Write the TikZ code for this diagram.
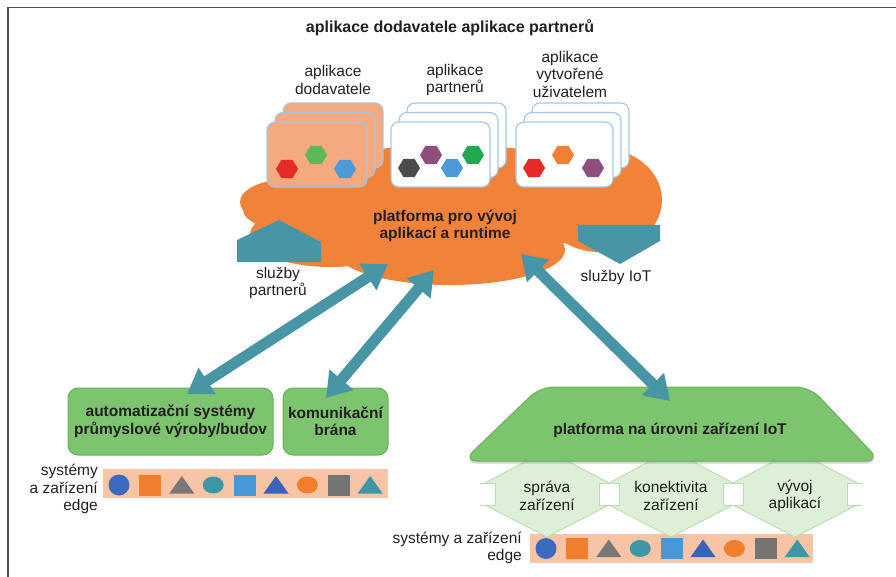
\documentclass[tikz,border=0pt]{standalone}
\usepackage{fontspec}
\setmainfont{Liberation Sans}
\usetikzlibrary{arrows.meta,shadows}

\definecolor{ink}{HTML}{231F20}
\definecolor{framec}{HTML}{505050}
\definecolor{cloudc}{HTML}{F0823A}
\definecolor{cardedge}{HTML}{A3C6E6}
\definecolor{cardsup}{HTML}{F4AA80}
\definecolor{tealc}{HTML}{4895A6}
\definecolor{greenc}{HTML}{7CC46D}
\definecolor{greenedge}{HTML}{68B35A}
\definecolor{featc}{HTML}{DDEFD6}
\definecolor{featedge}{HTML}{BADDAE}
\definecolor{peach}{HTML}{F7C4A6}
\definecolor{hred}{HTML}{E52A2A}
\definecolor{hgreenA}{HTML}{5DB85A}
\definecolor{hgreenB}{HTML}{22A84E}
\definecolor{hblue}{HTML}{4D9AD8}
\definecolor{hdark}{HTML}{4B4B4D}
\definecolor{hpurple}{HTML}{8E4E7E}
\definecolor{horange}{HTML}{F08134}
\definecolor{sblue}{HTML}{3A6BC0}
\definecolor{sorange}{HTML}{F07E2C}
\definecolor{sgray}{HTML}{787878}
\definecolor{steal}{HTML}{3D97A7}
\definecolor{slblue}{HTML}{4A97D6}
\definecolor{sblueB}{HTML}{3963BA}
\definecolor{sgrayB}{HTML}{747474}

\tikzset{
  lbl/.style={font=\fontsize{15.5}{17.5}\selectfont},
  blbl/.style={font=\fontsize{15.5}{17.5}\selectfont\bfseries},
  appcard/.style={draw=cardedge, line width=1.1pt, rounded corners=8pt},
  greenbox/.style={draw=greenedge, fill=greenc, line width=1pt, rounded corners=10pt,
    blbl, minimum height=67},
  featcell/.style={draw=featedge, fill=featc, line width=0.9pt},
  gapc/.style={draw=featedge, fill=white, line width=0.8pt},
  bigarrow/.style={draw=tealc, line width=11pt,
    arrows={Triangle[width=30pt,length=24pt]-Triangle[width=30pt,length=24pt]}},
  hexcell/.pic={\path[pic actions] (-11,0) -- (-5.5,-9.2) -- (5.5,-9.2) -- (11,0)
    -- (5.5,9.2) -- (-5.5,9.2) -- cycle;},
  dotc/.pic={\path[pic actions] (0,0) circle[radius=10.5];},
  sqc/.pic={\path[pic actions] (-11,-10.5) rectangle (11,10.5);},
  trc/.pic={\path[pic actions] (-12.5,8.5) -- (12.5,8.5) -- (0,-9) -- cycle;},
  elc/.pic={\path[pic actions] (0,0) ellipse[x radius=10.5, y radius=8.5];},
}

% three stacked application cards; #1 left edge of the front card, #2 width, #3 fill
\newcommand\cardstack[3]{%
  \foreach \d in {2,1,0}{%
    \filldraw[appcard, fill=#3] ({#1+8*\d},{122-9.5*\d}) rectangle ++(#2,65);}}

% a row of edge devices starting at x = #1, centred on y = #2
\newcommand\edgerow[2]{%
  \pic[fill=sblue]   at (#1,#2)          {dotc};
  \pic[fill=sorange] at ({#1+31.4},#2)   {sqc};
  \pic[fill=sgray]   at ({#1+62.8},#2)   {trc};
  \pic[fill=steal]   at ({#1+94.2},#2)   {elc};
  \pic[fill=slblue]  at ({#1+125.6},#2)  {sqc};
  \pic[fill=sblueB]  at ({#1+157},#2)    {trc};
  \pic[fill=sorange] at ({#1+188.4},#2)  {elc};
  \pic[fill=sgrayB]  at ({#1+219.8},#2)  {sqc};
  \pic[fill=steal]   at ({#1+251.2},#2)  {trc};}

% one service cell under the device platform, centred on x = #1
\newcommand\featshape[1]{%
  \filldraw[featcell] (#1,450) -- ({#1+62},483) -- ({#1+62},505) -- (#1,537)
    -- ({#1-62},505) -- ({#1-62},483) -- cycle;}

\begin{document}
\begin{tikzpicture}[x=1pt, y=-1pt,
  every node/.style={inner sep=0pt, align=center, text=ink}]
\useasboundingbox (0,0) rectangle (896,577);

% frame
\draw[framec, line width=1.5pt] (8,577) -- (8,7.5) -- (896,7.5);

\node[blbl, font=\fontsize{16}{18}\selectfont\bfseries] (title) at (450,28)
  {aplikace dodavatele aplikace partnerů};

% application runtime cloud
\fill[cloudc]
  (450,210) ellipse[x radius=207, y radius=40]
  (450,250) ellipse[x radius=115, y radius=35]
  (330,235) ellipse[x radius=80,  y radius=32]
  (290,202) ellipse[x radius=50,  y radius=23]
  (600,200) ellipse[x radius=62,  y radius=52]
  (450,175) ellipse[x radius=140, y radius=30];

% application cards
\cardstack{267}{100}{cardsup}
\cardstack{391}{99}{white}
\cardstack{516}{97}{white}

\pic[fill=hred]    at (287,169) {hexcell};
\pic[fill=hgreenA] at (316,155) {hexcell};
\pic[fill=hblue]   at (345,169) {hexcell};

\pic[fill=hdark]   at (409,168) {hexcell};
\pic[fill=hpurple] at (431,155) {hexcell};
\pic[fill=hblue]   at (452,168) {hexcell};
\pic[fill=hgreenB] at (473,155) {hexcell};

\pic[fill=hred]    at (534,168) {hexcell};
\pic[fill=horange] at (563,155) {hexcell};
\pic[fill=hpurple] at (593,168) {hexcell};

\node[lbl] (lsup) at (333,80) {aplikace\\dodavatele};
\node[lbl] (lpar) at (455,80) {aplikace\\partnerů};
\node[lbl] (lusr) at (570,74) {aplikace\\vytvořené\\uživatelem};

% service connectors on the cloud
\fill[tealc] (237,262) -- (237,240) -- (279,220) -- (321,242) -- (321,262) -- cycle;
\fill[tealc] (578,225) -- (660,225) -- (660,241) -- (620,264) -- (578,241) -- cycle;

\node[blbl] (core) at (445,226) {platforma pro vývoj\\aplikací a runtime};
\node[lbl] (lps) at (278,283) {služby\\partnerů};
\node[lbl] (lis) at (616,277) {služby IoT};

% left side: automation systems and gateway
\node[greenbox, minimum width=205] (auto) at (170.5,421.5)
  {automatizační systémy\\průmyslové výroby/budov};
\node[greenbox, minimum width=105] (gw) at (335.5,421.5) {komunikační\\brána};

\fill[peach] (103,469) rectangle (388,498);
\edgerow{119}{485}
\node[lbl, anchor=east, align=right] (ledgeA) at (98,489)
  {systémy\\a zařízení\\edge};

% right side: device level platform
\fill[peach] (530,534) rectangle (813,563);
\edgerow{546}{548.5}
\node[lbl, anchor=east, align=right] (ledgeB) at (522,548)
  {systémy a zařízení\\edge};

\featshape{547}
\featshape{671}
\featshape{795}
\foreach \j in {609,733}
  \filldraw[gapc] ({\j-10},483) rectangle ({\j+10},505);
% open gaps at both ends of the row
\fill[white] (477,483) rectangle (495,505);
\draw[featedge, line width=0.8pt] (480,483) -- (495,483) -- (495,505) -- (480,505);
\fill[white] (847,483) rectangle (865,505);
\draw[featedge, line width=0.8pt] (862,483) -- (847,483) -- (847,505) -- (862,505);

\node[lbl] (fmgmt) at (547,496) {správa\\zařízení};
\node[lbl] (fconn) at (671,496) {konektivita\\zařízení};
\node[lbl] (fdev)  at (795,496) {vývoj\\aplikací};

\filldraw[fill=greenc, draw=greenedge, line width=1pt, rounded corners=14pt,
  drop shadow={shadow xshift=0pt, shadow yshift=-2.5pt, opacity=0.35}]
  (540,387) -- (810,387) -- (880,461) -- (463,461) -- cycle;
\node[blbl] (iotp) at (670,430) {platforma na úrovni zařízení IoT};

% links between the cloud and the lower layers
\coordinate (a1t) at (388,264);
\coordinate (a1b) at (187,394);
\coordinate (a2t) at (434,270);
\coordinate (a2b) at (326,398);
\coordinate (a3t) at (521,254);
\coordinate (a3b) at (670,401);
\draw[bigarrow] (a1b) -- (a1t);
\draw[bigarrow] (a2b) -- (a2t);
\draw[bigarrow] (a3b) -- (a3t);
\end{tikzpicture}
\end{document}
